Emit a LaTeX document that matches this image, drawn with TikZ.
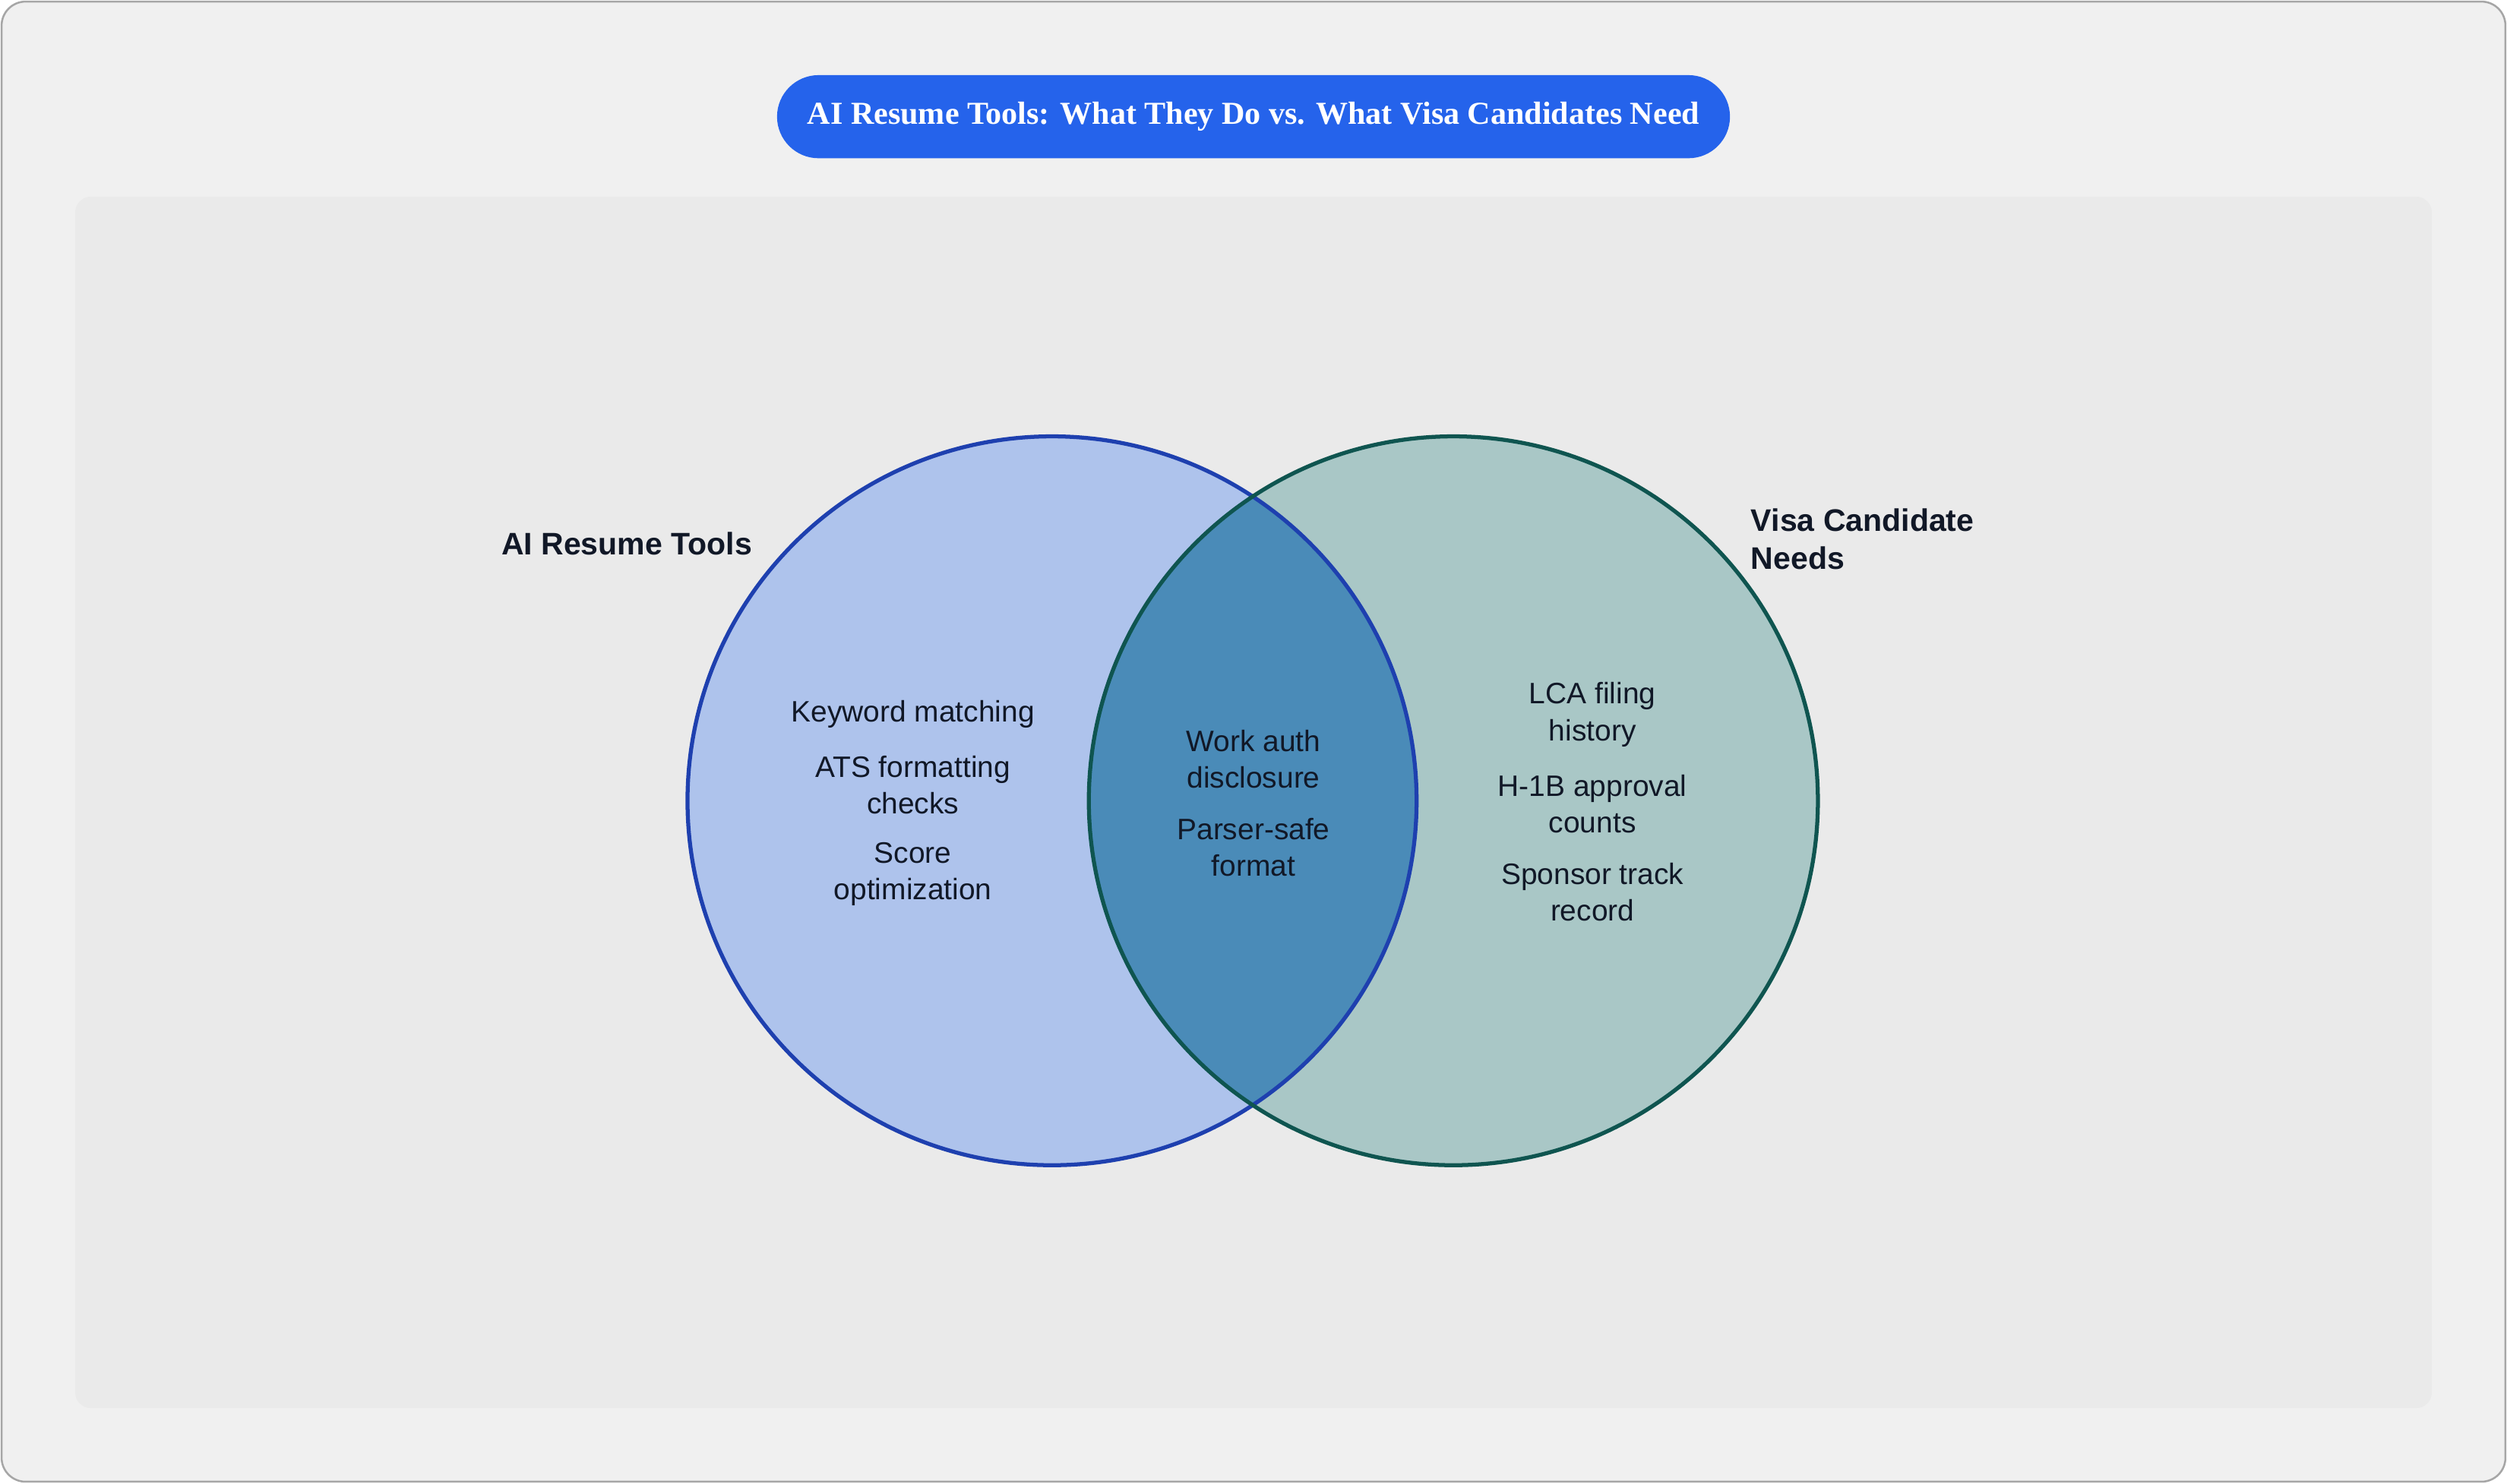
\documentclass[tikz,border=0pt]{standalone}
\usepackage{fontspec}
\setmainfont{Liberation Sans}
\newfontfamily\titlefont{Liberation Serif}
\definecolor{bgout}{HTML}{F0F0F0}
\definecolor{bgin}{HTML}{EAEAEA}
\definecolor{pill}{HTML}{2563EB}
\definecolor{lfill}{HTML}{AEC3EC}
\definecolor{lline}{HTML}{1E40AF}
\definecolor{rfill}{HTML}{A9C7C6}
\definecolor{rline}{HTML}{0F5550}
\definecolor{mid}{HTML}{4A8BB8}
\definecolor{txt}{HTML}{111827}
\begin{document}
\begin{tikzpicture}[x=1pt,y=-1pt,
  item/.style={align=center,text=txt,font=\fontsize{18.5}{23}\selectfont,inner sep=0pt},
  head/.style={text=txt,font=\fontsize{19.5}{24}\selectfont\bfseries,inner sep=0pt}]
\useasboundingbox (0,0) rectangle (1568,928);
\draw[fill=bgout,draw=black!35,line width=1.2pt,rounded corners=15] (1,1) rectangle (1567,927);
\fill[bgin,rounded corners=10] (47,123) rectangle (1521,881);
\node[fill=pill,rounded corners=26,minimum width=596,minimum height=52,inner sep=0pt,text=white,font=\titlefont\fontsize{20}{24}\selectfont\bfseries] (title) at (784,73) {AI Resume Tools: What They Do vs. What Visa Candidates Need};
\fill[lfill] (658,501) circle (228);
\fill[rfill] (909,501) circle (228);
\begin{scope}
\clip (658,501) circle (228);
\fill[mid] (909,501) circle (228);
\end{scope}
\draw[lline,line width=2.5pt] (658,501) circle (228);
\draw[rline,line width=2.5pt] (909,501) circle (228);
\node[head] (lh) at (392,340) {AI Resume Tools};
\node[head,anchor=north west,align=left] (rh) at (1095,318) {Visa Candidate\\Needs};
\node[item] (l1) at (571,447) {Keyword matching};
\node[item] (l2) at (571,491) {ATS formatting\\checks};
\node[item] (l3) at (571,547) {Score\\optimization};
\node[item] (m1) at (784,475) {Work auth\\disclosure};
\node[item] (m2) at (784,530) {Parser-safe\\format};
\node[item] (r1) at (996,447) {LCA filing\\history};
\node[item] (r2) at (996,503) {H-1B approval\\counts};
\node[item] (r3) at (996,558) {Sponsor track\\record};
\end{tikzpicture}
\end{document}
